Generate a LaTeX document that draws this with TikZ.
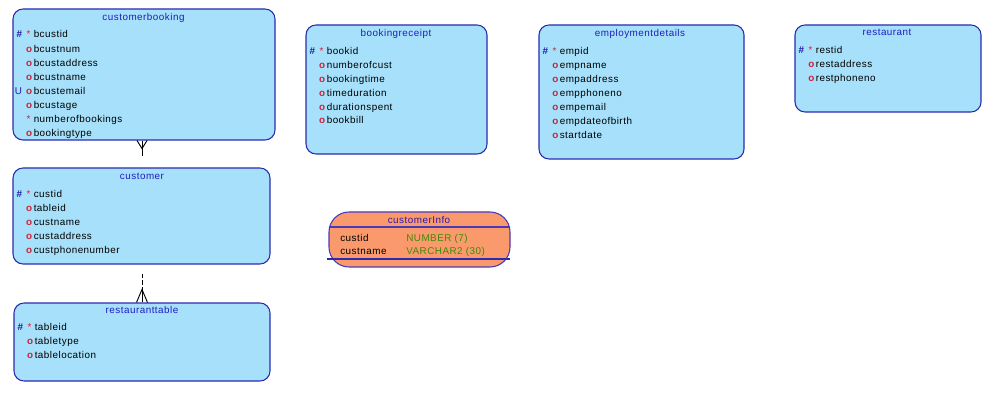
\documentclass[tikz,border=0pt]{standalone}
\usepackage{fontspec}
\usetikzlibrary{fit,calc}
\newfontfamily\erfont[LetterSpace=5]{Liberation Sans}
\definecolor{entfill}{HTML}{A6E0FA}
\definecolor{entborder}{HTML}{2B2BB0}
\definecolor{titleblue}{HTML}{1E1EC0}
\definecolor{pkblue}{HTML}{1E1EB0}
\definecolor{mred}{HTML}{D0203A}
\definecolor{viewfill}{HTML}{FA9A6C}
\definecolor{viewborder}{HTML}{4A3AB8}
\definecolor{viewtitle}{HTML}{2A1AA8}
\definecolor{typegreen}{HTML}{3F8A06}
\tikzset{
  ent/.style={draw=entborder, fill=entfill, rounded corners=7.5pt, line width=0.8pt, inner sep=0pt},
  viewbox/.style={draw=viewborder, fill=viewfill, rounded corners=15pt, line width=0.8pt, inner sep=0pt},
  erfnt/.style={font=\erfont\fontsize{7.4}{8}\selectfont},
  etitle/.style={erfnt, text=titleblue, anchor=base, inner sep=0pt},
  attr/.style={erfnt, text=black, anchor=base west, inner sep=0pt},
  pkm/.style={erfnt, text=pkblue, anchor=base, inner sep=0pt},
  reqm/.style={erfnt, text=mred, anchor=base, inner sep=0pt},
  typ/.style={erfnt, text=typegreen, anchor=base west, inner sep=0pt},
  rel/.style={draw=black, line width=0.7pt},
}
% rows: name, box left x, row centre y, text
\newcommand\rowPK[4]{%
  \node[pkm] (#1h) at ({#2+6.5},{#3+3.5}) {\textbf{\#}};
  \node[reqm] (#1s) at ({#2+15.5},{#3+3.5}) {*};
  \node[attr] (#1) at ({#2+20.5},{#3+3.5}) {#4};}
\newcommand\rowO[4]{%
  \node[reqm] (#1o) at ({#2+16.5},{#3+3.5}) {\textbf{o}};
  \node[attr] (#1) at ({#2+20.5},{#3+3.5}) {#4};}
\newcommand\rowUO[4]{%
  \node[pkm] (#1u) at ({#2+5.5},{#3+3.5}) {U};
  \node[reqm] (#1o) at ({#2+16.5},{#3+3.5}) {\textbf{o}};
  \node[attr] (#1) at ({#2+20.5},{#3+3.5}) {#4};}
\newcommand\rowR[4]{%
  \node[reqm] (#1s) at ({#2+15.5},{#3+3.5}) {*};
  \node[attr] (#1) at ({#2+20.5},{#3+3.5}) {#4};}
\begin{document}
\begin{tikzpicture}[x=0.75pt,y=-0.75pt]
\useasboundingbox (0,0) rectangle (1005,416);
\fill[white] (0,0) rectangle (1005,416);

% customerbooking
\node[ent, fit={(13,9) (275,140)}] (cb) {};
\node[etitle] (cb-t) at (143.5,20.5) {customerbooking};
\rowPK{cb1}{13}{34}{bcustid}
\rowO{cb2}{13}{49}{bcustnum}
\rowO{cb3}{13}{63}{bcustaddress}
\rowO{cb4}{13}{77}{bcustname}
\rowUO{cb5}{13}{91}{bcustemail}
\rowO{cb6}{13}{105}{bcustage}
\rowR{cb7}{13}{119}{numberofbookings}
\rowO{cb8}{13}{133}{bookingtype}

% customer
\node[ent, fit={(13,168) (270,264)}] (cu) {};
\node[etitle] (cu-t) at (142,179.5) {customer};
\rowPK{cu1}{13}{194}{custid}
\rowO{cu2}{13}{208}{tableid}
\rowO{cu3}{13}{222}{custname}
\rowO{cu4}{13}{236}{custaddress}
\rowO{cu5}{13}{250}{custphonenumber}

% restauranttable
\node[ent, fit={(14,303) (270,381)}] (rt) {};
\node[etitle] (rt-t) at (142,313.5) {restauranttable};
\rowPK{rt1}{14}{327}{tableid}
\rowO{rt2}{14}{341}{tabletype}
\rowO{rt3}{14}{355}{tablelocation}

% bookingreceipt
\node[ent, fit={(306,25) (487,154)}] (br) {};
\node[etitle] (br-t) at (396,36.5) {bookingreceipt};
\rowPK{br1}{306}{51}{bookid}
\rowO{br2}{306}{65}{numberofcust}
\rowO{br3}{306}{79}{bookingtime}
\rowO{br4}{306}{93}{timeduration}
\rowO{br5}{306}{107}{durationspent}
\rowO{br6}{306}{120}{bookbill}

% employmentdetails
\node[ent, fit={(539,25) (744,159)}] (ed) {};
\node[etitle] (ed-t) at (640,36.5) {employmentdetails};
\rowPK{ed1}{539}{51}{empid}
\rowO{ed2}{539}{65}{empname}
\rowO{ed3}{539}{79}{empaddress}
\rowO{ed4}{539}{93}{empphoneno}
\rowO{ed5}{539}{107}{empemail}
\rowO{ed6}{539}{121}{empdateofbirth}
\rowO{ed7}{539}{135}{startdate}

% restaurant
\node[ent, fit={(795,25) (981,112)}] (rs) {};
\node[etitle] (rs-t) at (887,35.5) {restaurant};
\rowPK{rs1}{795}{50}{restid}
\rowO{rs2}{795}{64}{restaddress}
\rowO{rs3}{795}{78}{restphoneno}

% customerInfo (view)
\node[viewbox, fit={(329,212) (510,267)}] (ci) {};
\node[etitle, text=viewtitle] (ci-t) at (419,223.5) {customerInfo};
\coordinate (ci-d1) at (329,227);
\coordinate (ci-d2) at (510,227);
\draw[draw=viewborder, line width=0.8pt] (ci-d1) -- (ci-d2);
\node[attr] (ci1) at (340,241.5) {custid};
\node[typ] (ci1t) at (406,241.5) {NUMBER (7)};
\node[attr] (ci2) at (340,254.5) {custname};
\node[typ] (ci2t) at (406,254.5) {VARCHAR2 (30)};
\coordinate (ci-l1) at (327,259);
\coordinate (ci-l2) at (510,259);
\draw[draw=entborder, line width=0.8pt] (ci-l1) -- (ci-l2);

% relation customerbooking -- customer
\coordinate (r1a) at (cb.south -| cu-t);
\coordinate (r1b) at ($(r1a)+(0,8)$);
\coordinate (r1c) at ($(r1a)+(0,15)$);
\draw[rel] (r1a) -- (r1c);
\draw[rel] ($(r1a)+(-5,0)$) -- (r1b) -- ($(r1a)+(5,0)$);

% relation customer -- restauranttable
\coordinate (r2s) at ($(cu.south -| rt-t)+(0,9)$);
\coordinate (r2c) at (rt.north -| rt-t);
\coordinate (r2b) at ($(r2c)+(0,-13)$);
\draw[rel, dash pattern=on 3.5pt off 1.5pt] (r2s) -- (r2b);
\draw[rel] (r2b) -- (r2c);
\draw[rel] ($(r2c)+(-5.5,0)$) -- (r2b) -- ($(r2c)+(5.5,0)$);
\end{tikzpicture}
\end{document}
